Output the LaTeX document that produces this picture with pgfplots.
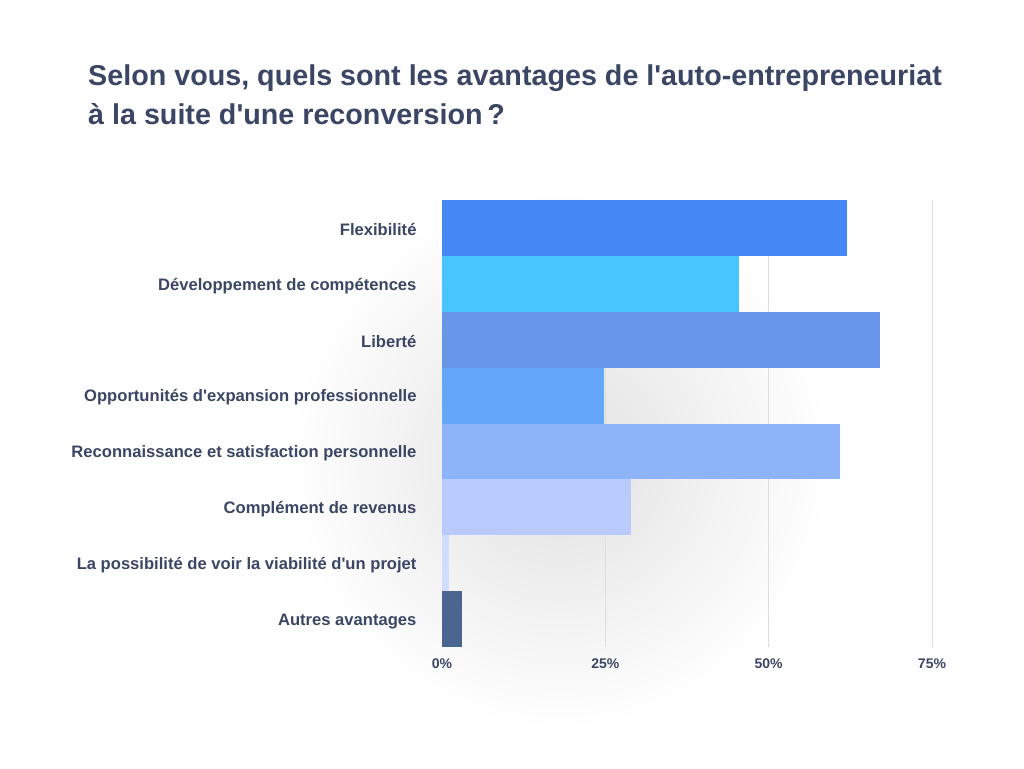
\documentclass[border=0pt]{standalone}
\usepackage{pgfplots}
\pgfplotsset{compat=1.18}
\usepackage{fontspec}
\setmainfont{Liberation Sans}[Ligatures=TeXOff]
\definecolor{textc}{RGB}{58,70,100}
\definecolor{gridc}{RGB}{222,222,222}
\definecolor{c1}{RGB}{68,135,245}
\definecolor{c2}{RGB}{72,196,255}
\definecolor{c3}{RGB}{104,150,232}
\definecolor{c4}{RGB}{100,167,249}
\definecolor{c5}{RGB}{141,180,248}
\definecolor{c6}{RGB}{185,203,253}
\definecolor{c7}{RGB}{208,221,255}
\definecolor{c8}{RGB}{74,101,143}
\begin{document}
\begin{tikzpicture}[x=1pt,y=1pt]
\fill[white] (0,0) rectangle (1024,-768);
\shade[inner color=black!12, outer color=white] (560,-460) circle (270);
\node[anchor=base west, text=textc, font=\bfseries\fontsize{28.7}{32}\selectfont, inner sep=0] at (88,-85) {Selon vous, quels sont les avantages de l'auto-entrepreneuriat};
\node[anchor=base west, text=textc, font=\bfseries\fontsize{28.7}{32}\selectfont, inner sep=0] at (88,-124) {à la suite d'une reconversion\,?};
\begin{axis}[
  at={(442pt,-647pt)}, anchor=south west, scale only axis,
  width=490pt, height=447pt,
  xmin=0, xmax=75, ymin=-0.5, ymax=7.5, y dir=reverse,
  xbar, bar width=1, bar shift=0pt,
  axis line style={draw=none},
  xtick={0,25,50,75}, xticklabels={0\%,25\%,50\%,75\%},
  ytick={0,1,2,3,4,5,6,7},
  yticklabels={Flexibilité,Développement de compétences,Liberté,Opportunités d'expansion professionnelle,Reconnaissance et satisfaction personnelle,Complément de revenus,La possibilité de voir la viabilité d'un projet,Autres avantages},
  xmajorgrids, major grid style={gridc, line width=0.8pt},
  major tick length=0pt,
  tick label style={text=textc, font=\bfseries\fontsize{16.6}{19}\selectfont},
  xticklabel style={font=\bfseries\fontsize{14}{16}\selectfont, yshift=-8pt},
  yticklabel style={anchor=east, xshift=-22pt, yshift=-2pt},
  /pgf/number format/assume math mode=true,
  clip=false,
]
\addplot[fill=c1, draw=none] coordinates {(62.0,0)};
\addplot[fill=c2, draw=none] coordinates {(45.5,1)};
\addplot[fill=c3, draw=none] coordinates {(67.1,2)};
\addplot[fill=c4, draw=none] coordinates {(24.8,3)};
\addplot[fill=c5, draw=none] coordinates {(60.9,4)};
\addplot[fill=c6, draw=none] coordinates {(28.9,5)};
\addplot[fill=c7, draw=none] coordinates {(1.1,6)};
\addplot[fill=c8, draw=none] coordinates {(3.1,7)};
\end{axis}
\end{tikzpicture}
\end{document}
